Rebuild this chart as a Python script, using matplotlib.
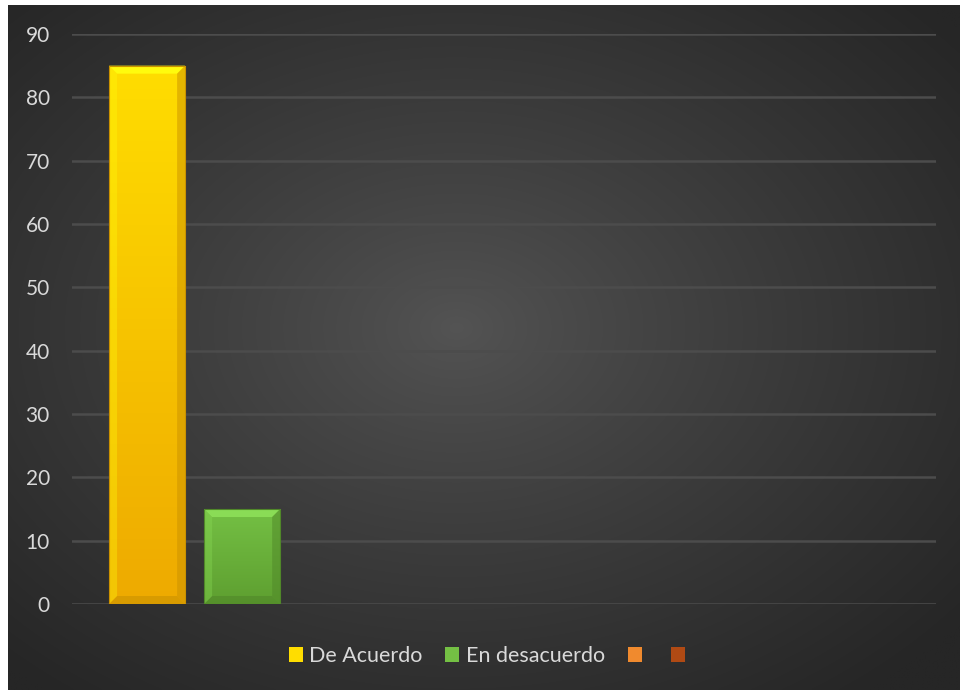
import numpy as np
import matplotlib.pyplot as plt
from matplotlib.patches import Polygon
from matplotlib.colors import to_rgb

# データ
series = ["De Acuerdo", "En desacuerdo", "", ""]
values = [85, 15, 0, 0]
yticks = [0, 10, 20, 30, 40, 50, 60, 70, 80, 90]

# 色 (上, 下) のグラデーション
top_colors = ["#FFDD00", "#74C044", "#F08A2E", "#B04A14"]
bot_colors = ["#EEAA00", "#5E9F30", "#D06A18", "#8A3508"]

plt.rcParams['font.family'] = ['Lato', 'DejaVu Sans']

W, H = 960, 690
fig = plt.figure(figsize=(W / 100, H / 100), dpi=100, facecolor="white")

# 背景 (放射状グラデーション)
bg = fig.add_axes([8 / W, 0, (W - 8) / W, (H - 5) / H])
yy, xx = np.mgrid[0:300, 0:400]
cx, cy = 0.47 * 400, 0.47 * 300
r = np.sqrt(((xx - cx) / 400) ** 2 + ((yy - cy) / 300) ** 2) / 0.68
r = np.clip(r, 0, 1) ** 0.85
c0 = np.array(to_rgb("#545454"))
c1 = np.array(to_rgb("#262626"))
img = c0[None, None, :] * (1 - r[..., None]) + c1[None, None, :] * r[..., None]
bg.imshow(img, aspect="auto", extent=(0, 1, 0, 1), interpolation="bilinear")
bg.set_axis_off()

# メインの軸
left, right = 72 / W, 936 / W
y0, y90 = 604, 34
ax = fig.add_axes([left, (H - y0) / H, right - left, (y0 - y90) / H])
ax.patch.set_alpha(0)

# 棒の位置 (ピクセル位置に合わせる)
x_lo, x_hi = -0.79, 8.3
width = 0.8
positions = np.arange(len(series))

handles = []
for i, (name, v) in enumerate(zip(series, values)):
    b = ax.bar(positions[i], v, width=width, color=top_colors[i], linewidth=0,
               label=name, zorder=3)
    handles.append(b)
    if v <= 0:
        continue
    patch = b.patches[0]
    x0 = positions[i] - width / 2
    x1 = positions[i] + width / 2
    grad = np.linspace(0, 1, 100)[:, None, None]
    ct = np.array(to_rgb(top_colors[i]))
    cb = np.array(to_rgb(bot_colors[i]))
    gimg = ct * (1 - grad) + cb * grad
    im = ax.imshow(gimg, aspect="auto", extent=(x0, x1, 0, v), zorder=4,
                   interpolation="bilinear")
    im.set_clip_path(patch)
    # ベベル効果
    dx = 8 / 95.0
    dy = 8 * 90 / 570.0
    light = tuple(np.clip(ct * 1.08 + 0.05, 0, 1))
    dark = tuple(cb * 0.85)
    ax.add_patch(Polygon([(x0, v), (x1, v), (x1 - dx, v - dy), (x0 + dx, v - dy)],
                         closed=True, color=light, lw=0, zorder=5))
    ax.add_patch(Polygon([(x0, 0), (x1, 0), (x1 - dx, dy), (x0 + dx, dy)],
                         closed=True, color=dark, lw=0, zorder=5, alpha=0.6))
    ax.add_patch(Polygon([(x1, 0), (x1, v), (x1 - dx, v - dy), (x1 - dx, dy)],
                         closed=True, color=dark, lw=0, zorder=5, alpha=0.5))
    ax.add_patch(Polygon([(x0, 0), (x0, v), (x0 + dx, v - dy), (x0 + dx, dy)],
                         closed=True, color=light, lw=0, zorder=5, alpha=0.35))
    ax.add_patch(Polygon([(x0, 0), (x1, 0), (x1, v), (x0, v)], closed=True,
                         fill=False, edgecolor=dark, lw=0.8, zorder=6))

ax.set_xlim(x_lo, x_hi)
ax.set_ylim(0, 90)
ax.set_yticks(yticks)
ax.set_xticks([])
ax.yaxis.grid(True, color="#4C4C4C", linewidth=1.8, zorder=0)
ax.set_axisbelow(True)
for s in ax.spines.values():
    s.set_visible(False)
ax.tick_params(axis="y", length=0, pad=16, labelsize=15, labelcolor="#D9D9D9")

# 凡例
fig.legend(handles=handles, labels=series, loc="center",
           bbox_to_anchor=(490 / W, 1 - 656 / H), ncol=4, frameon=False,
           fontsize=15.5, labelcolor="#D9D9D9", handlelength=0.65,
           handleheight=0.65, handletextpad=0.3, columnspacing=1.05)

fig.savefig("out.png", dpi=100, facecolor="white")
